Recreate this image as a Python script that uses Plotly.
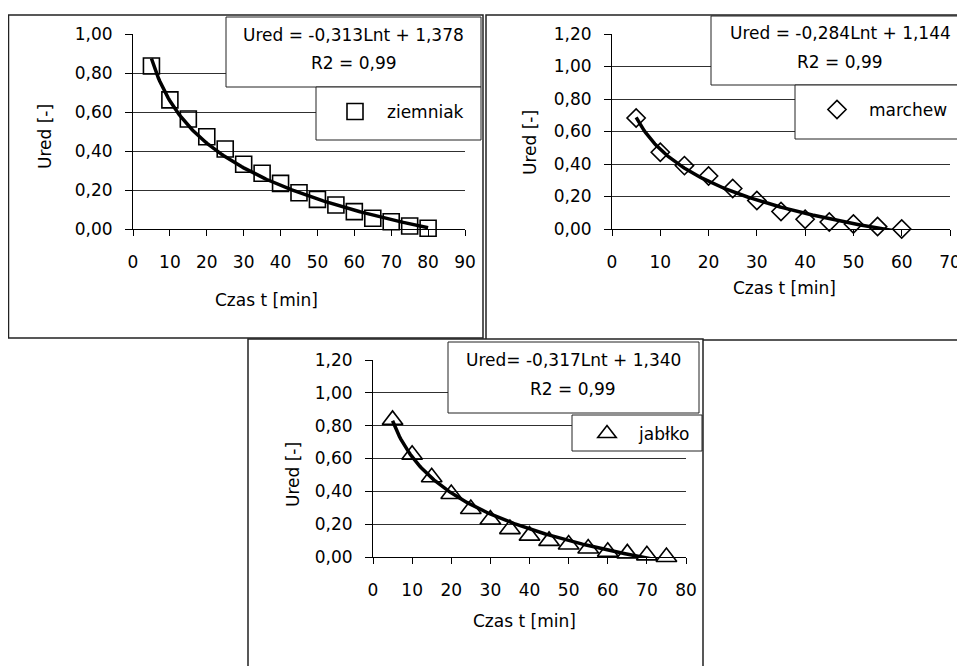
import numpy as np
import plotly.graph_objects as go

# the page body adds an 8px margin around the figure, so the figure is drawn
# 8px smaller and all layout positions (in screen pixels) are shifted by 8px
OFF = 8
W, H = 965 - OFF, 666 - OFF

# ---- data ----
t_ziemniak = [5, 10, 15, 20, 25, 30, 35, 40, 45, 50, 55, 60, 65, 70, 75, 80]
u_ziemniak = [0.836, 0.662, 0.564, 0.473, 0.41, 0.332, 0.286, 0.234, 0.186, 0.152,
              0.123, 0.089, 0.055, 0.037, 0.015, 0.004]

t_marchew = [5, 10, 15, 20, 25, 30, 35, 40, 45, 50, 55, 60]
u_marchew = [0.683, 0.472, 0.39, 0.326, 0.249, 0.175, 0.108, 0.06, 0.043, 0.031, 0.015, 0.0]

t_jablko = [5, 10, 15, 20, 25, 30, 35, 40, 45, 50, 55, 60, 65, 70, 75]
u_jablko = [0.835, 0.623, 0.486, 0.384, 0.292, 0.228, 0.17, 0.13, 0.098, 0.076,
            0.052, 0.032, 0.022, 0.01, 0.0]

# logarithmic trendline coefficients shown on the chart (a*ln t + b)
fit_ziemniak = (-0.313, 1.378)
fit_marchew = (-0.284, 1.144)
fit_jablko = (-0.317, 1.340)

eq_ziemniak = ["Ured = -0,313Lnt + 1,378", "R2 = 0,99"]
eq_marchew = ["Ured = -0,284Lnt + 1,144", "R2 = 0,99"]
eq_jablko = ["Ured= -0,317Lnt + 1,340", "R2 = 0,99"]

x_title = "Czas t [min]"
y_title = "Ured [-]"

FONT = "DejaVu Sans"
FS = 17


def fx(p):
    return (p - OFF) / W


def fy(p):
    return 1 - (p - OFF) / H


panels = [
    dict(name="ziemniak", t=t_ziemniak, u=u_ziemniak, fit=fit_ziemniak, eq=eq_ziemniak,
         symbol="square-open", msize=16,
         xa="x", ya="y", xdom=(133, 465), ydom=(229, 34), xr=[0, 90], yr=[0, 1.0],
         frame=(8.5, 15, 483, 338),
         eqbox=(226, 17, 481, 87), lgbox=(316, 87, 481, 140),
         eqpos=[(353, 35), (354, 63)], lgpos=(323, 112), legend="legend",
         ytpos=(45, 137), xtpos=(266, 300)),
    dict(name="marchew", t=t_marchew, u=u_marchew, fit=fit_marchew, eq=eq_marchew,
         symbol="diamond-open", msize=14,
         xa="x2", ya="y2", xdom=(612, 950), ydom=(229, 34), xr=[0, 70], yr=[0, 1.2],
         frame=(486, 15, 972, 340),
         eqbox=(711, 16, 972, 85), lgbox=(795, 85, 972, 139),
         eqpos=[(840, 33), (840, 62)], lgpos=(805, 110), legend="legend2",
         ytpos=(530, 143), xtpos=(784, 288)),
    dict(name="jabłko", t=t_jablko, u=u_jablko, fit=fit_jablko, eq=eq_jablko,
         symbol="triangle-up-open", msize=18,
         xa="x3", ya="y3", xdom=(373, 686), ydom=(557, 360), xr=[0, 80], yr=[0, 1.2],
         frame=(248, 339, 703, 672),
         eqbox=(448, 342, 699, 413), lgbox=(572, 415, 702, 451),
         eqpos=[(573, 360), (573, 389)], lgpos=(575, 434), legend="legend3",
         ytpos=(293, 475), xtpos=(524, 621)),
]

fig = go.Figure()
shapes = []
annotations = []
layout = {}

for i, p in enumerate(panels):
    sfx = "" if i == 0 else str(i + 1)
    # markers
    fig.add_trace(go.Scatter(
        x=p["t"], y=p["u"], mode="markers", name=p["name"],
        xaxis=p["xa"], yaxis=p["ya"], legend=p["legend"], cliponaxis=False,
        marker=dict(symbol=p["symbol"], size=p["msize"], color="black",
                    line=dict(color="black", width=1.6)),
    ))
    # trendline from the displayed equation, over the data range
    a, b = p["fit"]
    tt = np.linspace(min(p["t"]), max(p["t"]), 200)
    uu = a * np.log(tt) + b
    fig.add_trace(go.Scatter(
        x=tt, y=uu, mode="lines", showlegend=False, hoverinfo="skip",
        xaxis=p["xa"], yaxis=p["ya"], line=dict(color="black", width=3.5),
    ))

    layout["xaxis" + sfx] = dict(
        domain=[fx(p["xdom"][0]), fx(p["xdom"][1])], range=p["xr"], anchor=p["ya"],
        tick0=0, dtick=10, ticks="outside", ticklen=6, tickcolor="black", tickwidth=1,
        showline=True, linecolor="black", linewidth=1, showgrid=False, zeroline=False,
        tickfont=dict(family=FONT, size=FS, color="black"), ticklabelstandoff=12,
        ticklabeloverflow="allow",
    )
    layout["yaxis" + sfx] = dict(
        domain=[fy(p["ydom"][0]), fy(p["ydom"][1])], range=p["yr"], anchor=p["xa"],
        tick0=0, dtick=0.2, tickformat=".2f", ticks="outside", ticklen=7,
        tickcolor="black", tickwidth=1,
        showline=True, linecolor="black", linewidth=1, showgrid=True,
        gridcolor="#303030", gridwidth=1, zeroline=False,
        tickfont=dict(family=FONT, size=FS, color="black"), ticklabelstandoff=9,
    )
    layout[p["legend"]] = dict(
        x=fx(p["lgpos"][0]), y=fy(p["lgpos"][1]), xanchor="left", yanchor="middle",
        bgcolor="rgba(0,0,0,0)", borderwidth=0, itemwidth=54,
        font=dict(family=FONT, size=FS, color="black"),
    )

    # panel frame
    x0, y0, x1, y1 = p["frame"]
    shapes.append(dict(type="rect", xref="paper", yref="paper", layer="below",
                       x0=fx(x0), x1=fx(x1), y0=fy(y0), y1=fy(y1),
                       line=dict(color="#222", width=1.5), fillcolor="white"))
    # equation and legend boxes
    for bx in (p["eqbox"], p["lgbox"]):
        x0, y0, x1, y1 = bx
        shapes.append(dict(type="rect", xref="paper", yref="paper", layer="above",
                           x0=fx(x0), x1=fx(x1), y0=fy(y0), y1=fy(y1),
                           line=dict(color="#222", width=1), fillcolor="white"))
    for txt, (ex, ey) in zip(p["eq"], p["eqpos"]):
        annotations.append(dict(text=txt, xref="paper", yref="paper", x=fx(ex), y=fy(ey),
                                xanchor="center", yanchor="middle", showarrow=False,
                                font=dict(family=FONT, size=FS, color="black")))
    annotations.append(dict(text=y_title, xref="paper", yref="paper",
                            x=fx(p["ytpos"][0]), y=fy(p["ytpos"][1]), textangle=-90,
                            xanchor="center", yanchor="middle", showarrow=False,
                            font=dict(family=FONT, size=FS, color="black")))
    annotations.append(dict(text=x_title, xref="paper", yref="paper",
                            x=fx(p["xtpos"][0]), y=fy(p["xtpos"][1]),
                            xanchor="center", yanchor="middle", showarrow=False,
                            font=dict(family=FONT, size=FS, color="black")))

fig.update_layout(
    width=W, height=H, margin=dict(l=0, r=0, t=0, b=0, autoexpand=False),
    paper_bgcolor="white", plot_bgcolor="rgba(0,0,0,0)",
    separators=", ", showlegend=True,
    shapes=shapes, annotations=annotations,
    font=dict(family=FONT, size=FS, color="black"),
    **layout,
)

fig.write_html("out.html")
